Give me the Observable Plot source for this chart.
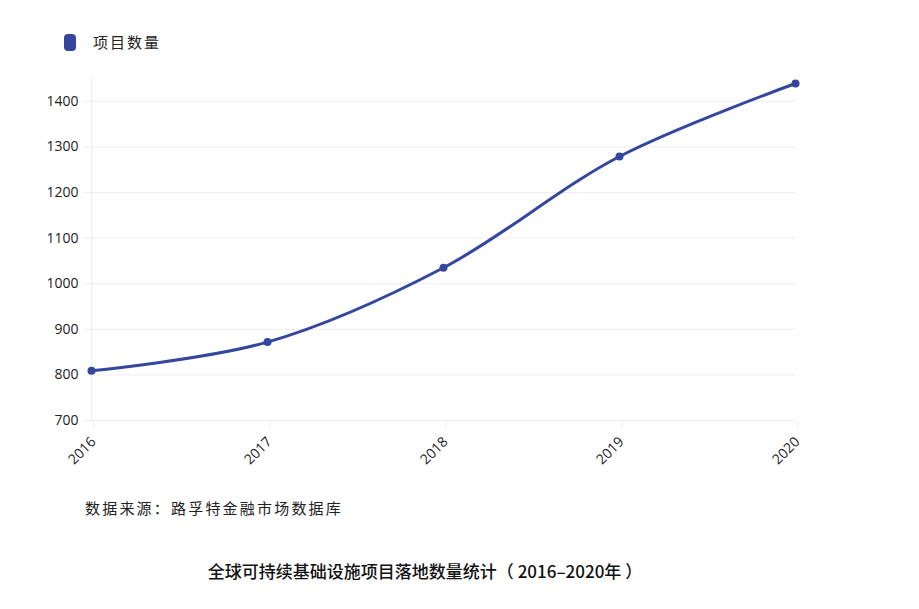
<!DOCTYPE html>
<html><head><meta charset="utf-8">
<script src="https://cdn.jsdelivr.net/npm/d3@7"></script>
<script src="https://cdn.jsdelivr.net/npm/@observablehq/plot@0.6"></script>
<style>
body{margin:0;background:#fff;width:919px;height:609px;overflow:hidden;font-family:"Noto Sans CJK SC",sans-serif;}
#legend{position:relative;height:62px;}
#legend .sw{position:absolute;left:64px;top:34px;width:12px;height:17px;border-radius:4px;background:#34469d;}
#legend .lb{position:absolute;left:93px;top:32px;font-size:15px;line-height:20px;color:#222;letter-spacing:2px;}
#source{padding-left:85px;margin-top:6px;font-size:15px;line-height:20px;color:#222;letter-spacing:2.2px;}
#title{width:850px;text-align:center;margin-top:43px;font-size:17px;line-height:20px;color:#111;font-weight:500;}
</style></head>
<body>
<div id="legend"><div class="sw"></div><div class="lb">项目数量</div></div>
<div id="chart"></div>
<div id="source">数据来源：路孚特金融市场数据库</div>
<div id="title">全球可持续基础设施项目落地数量统计（ 2016–2020年 ）</div>
<script>
const years = ["2016","2017","2018","2019","2020"];
const projects = [809, 872, 1035, 1279, 1439];
const yTicks = [700, 800, 900, 1000, 1100, 1200, 1300, 1400];
const data = years.map((y, i) => ({year: y, value: projects[i]}));
const color = "#34469d";
const chart = Plot.plot({
  width: 919,
  height: 430,
  marginLeft: 90,
  marginRight: 124,
  marginTop: 16,
  marginBottom: 72,
  style: {fontFamily: "'Open Sans', sans-serif", fontSize: "14px", color: "#222", background: "transparent"},
  x: {type: "point", domain: years, padding: 0, label: null},
  y: {domain: [700, 1450], label: null},
  marks: [
    Plot.gridY(yTicks, {stroke: "#eeeeee", strokeOpacity: 1}),
    Plot.ruleX([years[0]], {stroke: "#eeeeee", strokeOpacity: 1}),
    Plot.axisY(yTicks, {tickSize: 7, tickPadding: 5, tickFormat: "d", stroke: "#eeeeee", strokeOpacity: 1, fill: "#222"}),
    Plot.axisX(years, {tickSize: 7, tickPadding: 12, tickRotate: -45, dx: 2, stroke: "#eeeeee", strokeOpacity: 1, fill: "#222"}),
    Plot.line(data, {x: "year", y: "value", stroke: color, strokeWidth: 3, curve: "catmull-rom"}),
    Plot.dot(data, {x: "year", y: "value", fill: color, r: 4})
  ]
});
document.getElementById("chart").appendChild(chart);
</script>
</body></html>
